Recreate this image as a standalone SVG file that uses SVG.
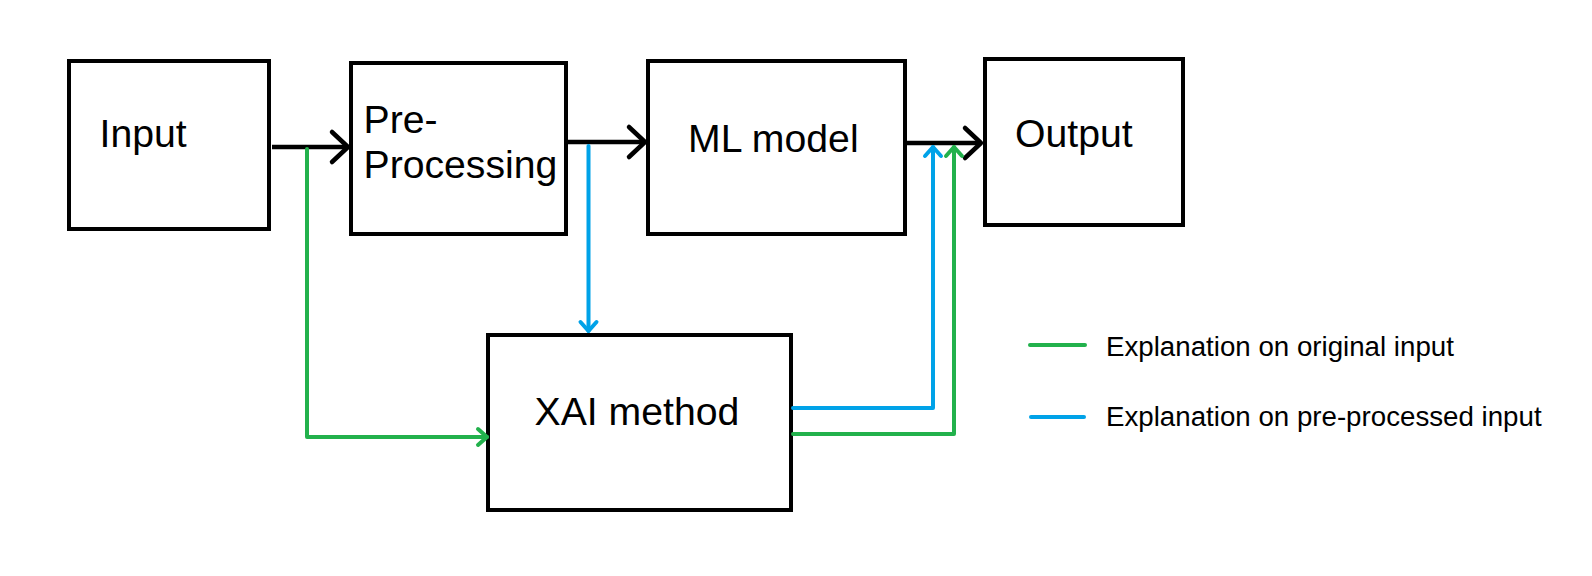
<svg xmlns="http://www.w3.org/2000/svg" width="1592" height="576" viewBox="0 0 1592 576">
<style>
.box{fill:#fff;stroke:#000;stroke-width:4}
.lbl{font-family:"Liberation Sans",Arial,sans-serif;font-size:39.2px;fill:#000}
.leg{font-family:"Liberation Sans",Arial,sans-serif;font-size:27.7px;fill:#000}
.blk{fill:none;stroke:#000;stroke-width:4.5}
.grn{fill:none;stroke:#22B14C;stroke-width:4;stroke-linecap:round;stroke-linejoin:round}
.blu{fill:none;stroke:#00A2E8;stroke-width:4;stroke-linecap:round;stroke-linejoin:round}
</style>
<defs>
<marker id="aBlk" markerUnits="userSpaceOnUse" viewBox="-20 -18 24 36" refX="0" refY="0" markerWidth="24" markerHeight="36" orient="auto" overflow="visible">
<path d="M-16,-15 L0,0 L-16,15" fill="none" stroke="#000" stroke-width="4.5" stroke-linecap="round" stroke-linejoin="round"/>
</marker>
<marker id="aGrn" markerUnits="userSpaceOnUse" viewBox="-12 -10 14 20" refX="0" refY="0" markerWidth="14" markerHeight="20" orient="auto" overflow="visible">
<path d="M-9,-8 L0,0 L-9,8" fill="none" stroke="#22B14C" stroke-width="4" stroke-linecap="round" stroke-linejoin="round"/>
</marker>
<marker id="aBlu" markerUnits="userSpaceOnUse" viewBox="-12 -10 14 20" refX="0" refY="0" markerWidth="14" markerHeight="20" orient="auto" overflow="visible">
<path d="M-9,-8 L0,0 L-9,8" fill="none" stroke="#00A2E8" stroke-width="4" stroke-linecap="round" stroke-linejoin="round"/>
</marker>
</defs>
<rect width="1592" height="576" fill="#fff"/>
<g id="input">
<rect class="box" x="69" y="61" width="200" height="168"/>
<text class="lbl" x="99.5" y="147">Input</text>
</g>
<g id="preprocessing">
<rect class="box" x="351" y="63" width="215" height="171"/>
<text class="lbl" x="363.5" y="133">Pre-</text>
<text class="lbl" x="363.5" y="178">Processing</text>
</g>
<g id="mlmodel">
<rect class="box" x="648" y="61" width="257" height="173"/>
<text class="lbl" x="688" y="152">ML model</text>
</g>
<g id="output">
<rect class="box" x="985" y="59" width="198" height="166"/>
<text class="lbl" x="1015" y="147">Output</text>
</g>
<g id="xai">
<rect class="box" x="488" y="335" width="303" height="175"/>
<text class="lbl" x="534.5" y="425">XAI method</text>
</g>
<g id="connectors">
<path class="blk" d="M272,147 H348" marker-end="url(#aBlk)"/>
<path class="blk" d="M568,142 H645" marker-end="url(#aBlk)"/>
<path class="blk" d="M905,143 H981" marker-end="url(#aBlk)"/>
<path class="grn" d="M307,149 V437 H487" marker-end="url(#aGrn)"/>
<path class="blu" d="M588.5,146 V331" marker-end="url(#aBlu)"/>
<path class="blu" d="M793,408 H933 V147" marker-end="url(#aBlu)"/>
<path class="grn" d="M793,434 H954 V147" marker-end="url(#aGrn)"/>
</g>
<g id="legend">
<line class="grn" x1="1030" y1="345" x2="1085" y2="345"/>
<text class="leg" x="1106" y="356">Explanation on original input</text>
<line class="blu" x1="1031" y1="417" x2="1084" y2="417"/>
<text class="leg" x="1106" y="426">Explanation on pre-processed input</text>
</g>
</svg>
